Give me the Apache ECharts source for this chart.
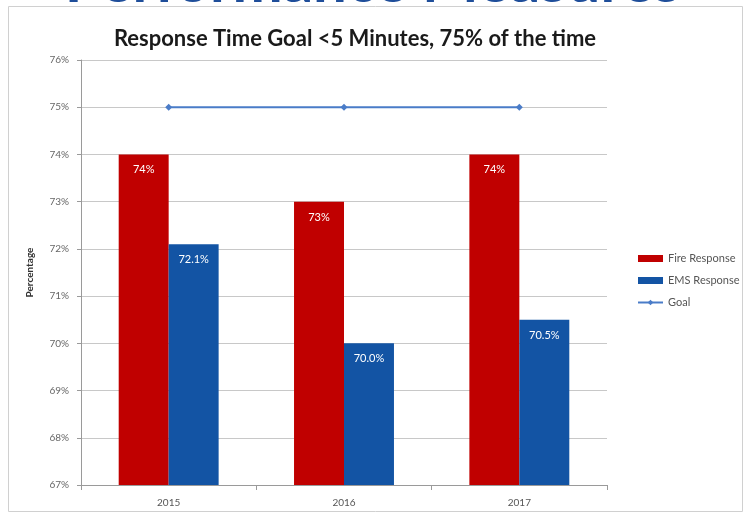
<!DOCTYPE html>
<html>
<head>
<meta charset="utf-8">
<script src="https://cdn.jsdelivr.net/npm/echarts@6/dist/echarts.min.js"></script>
<style>
  html, body { margin: 0; padding: 0; background: #ffffff; }
  #chart { width: 745px; height: 516px; }
</style>
</head>
<body>
<div id="chart"></div>
<script>
// Response time performance by year
const years = ['2015', '2016', '2017'];
const fireResponse = [74, 73, 74];
const emsResponse = [72.1, 70.0, 70.5];
const goal = [75, 75, 75];
const yMin = 67, yMax = 76, yStep = 1;

const chart = echarts.init(document.getElementById('chart'));
const font = 'Lato, "Open Sans", sans-serif';

chart.setOption({
  backgroundColor: '#ffffff',
  animation: false,
  graphic: [
    {
      type: 'text',
      left: 'center',
      top: -47,
      style: {
        text: 'Performance Measures',
        font: 'bold 60px ' + font,
        fill: '#1f4e9a'
      }
    },
    {
      type: 'rect',
      shape: { x: 8.5, y: 6.5, width: 734, height: 505 },
      style: { fill: 'none', stroke: '#d0d0d0', lineWidth: 1 },
      z: -1
    }
  ],
  title: {
    text: 'Response Time Goal <5 Minutes, 75% of the time',
    left: 350,
    textAlign: 'center',
    top: 23,
    textStyle: { fontFamily: font, fontWeight: 'bold', fontSize: 22, color: '#1a1a1a' }
  },
  legend: {
    orient: 'vertical',
    left: 632,
    top: 248,
    itemGap: 11,
    itemWidth: 25,
    itemHeight: 7,
    textStyle: { fontFamily: font, fontSize: 11, color: '#555555' },
    data: [
      { name: 'Fire Response', icon: 'rect' },
      { name: 'EMS Response', icon: 'rect' },
      { name: 'Goal' }
    ]
  },
  grid: { left: 81, right: 138, top: 60, bottom: 31 },
  xAxis: {
    type: 'category',
    data: years,
    axisLine: { lineStyle: { color: '#9a9a9a' } },
    axisTick: { show: true, alignWithLabel: false, lineStyle: { color: '#9a9a9a' } },
    axisLabel: { fontFamily: font, fontSize: 10, color: '#555555', margin: 13 }
  },
  yAxis: {
    type: 'value',
    min: yMin,
    max: yMax,
    interval: yStep,
    name: 'Percentage',
    nameLocation: 'middle',
    nameGap: 46,
    nameRotate: 90,
    nameTextStyle: { fontFamily: font, fontWeight: 'bold', fontSize: 10, color: '#333333' },
    axisLine: { show: true, lineStyle: { color: '#9a9a9a' } },
    axisTick: { show: true, length: 4, lineStyle: { color: '#9a9a9a' } },
    axisLabel: { fontFamily: font, fontSize: 10, color: '#666666', margin: 12, formatter: '{value}%' },
    splitLine: { lineStyle: { color: '#c8c8c8' } }
  },
  series: [
    {
      name: 'Fire Response',
      type: 'bar',
      data: fireResponse,
      barGap: '0%',
      barCategoryGap: '43%',
      itemStyle: { color: '#c00000' },
      label: {
        show: true,
        position: 'insideTop',
        distance: 10,
        color: '#ffffff',
        fontFamily: font,
        fontSize: 11,
        formatter: p => p.value.toFixed(0) + '%'
      }
    },
    {
      name: 'EMS Response',
      type: 'bar',
      data: emsResponse,
      itemStyle: { color: '#1354a4' },
      label: {
        show: true,
        position: 'insideTop',
        distance: 10,
        color: '#ffffff',
        fontFamily: font,
        fontSize: 11,
        formatter: p => p.value.toFixed(1) + '%'
      }
    },
    {
      name: 'Goal',
      type: 'line',
      data: goal,
      symbol: 'diamond',
      symbolSize: 7,
      lineStyle: { color: '#4a7cc8', width: 2 },
      itemStyle: { color: '#4a7cc8' },
      label: { show: false }
    }
  ]
});
</script>
</body>
</html>
